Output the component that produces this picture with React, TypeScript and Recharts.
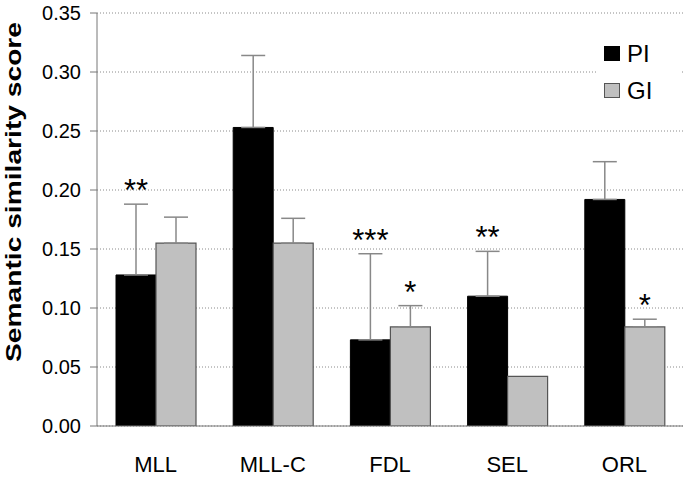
import React from 'react';
import {
  BarChart,
  Bar,
  XAxis,
  YAxis,
  CartesianGrid,
  ErrorBar,
  LabelList,
} from 'recharts';

const categories = ['MLL', 'MLL-C', 'FDL', 'SEL', 'ORL'];
const piValues = [0.128, 0.253, 0.073, 0.11, 0.192];
const giValues = [0.155, 0.155, 0.084, 0.042, 0.084];
const piErrors = [0.06, 0.061, 0.073, 0.038, 0.032];
const giErrors = [0.022, 0.021, 0.018, null, 0.0065];
const piMarks = ['**', '', '***', '**', ''];
const giMarks = ['', '', '*', '', '*'];
const yTicks = [0, 0.05, 0.1, 0.15, 0.2, 0.25, 0.3, 0.35];

const FONT = '"Liberation Sans", Arial, Helvetica, sans-serif';

const data = categories.map((name, i) => ({
  name,
  pi: piValues[i],
  gi: giValues[i],
  piErr: piErrors[i] == null ? null : [0, piErrors[i]],
  giErr: giErrors[i] == null ? null : [0, giErrors[i]],
  piSig: piMarks[i],
  giSig: giMarks[i],
}));

// asterisks sit just above the top of the error bar
const sigLabel = (values: number[], errors: (number | null)[]) => (props: any) => {
  const { x, y, width, height, value, index } = props;
  if (!value) return null;
  const perUnit = height / values[index];
  const top = y - (errors[index] || 0) * perUnit;
  return (
    <text
      x={x + width / 2}
      y={top - 3}
      textAnchor="middle"
      fontSize={31}
      fontFamily={FONT}
      fill="#000"
    >
      {value}
    </text>
  );
};

const YTitle = () => (
  <text
    transform="translate(21,192) rotate(-90)"
    textAnchor="middle"
    fontSize={22}
    fontWeight="bold"
    fontFamily={FONT}
    fill="#000"
    textLength={340}
    lengthAdjust="spacingAndGlyphs"
  >
    Semantic similarity score
  </text>
);

export default function App() {
  return (
    <div style={{ position: 'absolute', left: 0, top: 0, width: 685, height: 477, background: '#fff' }}>
      <BarChart
        width={685}
        height={477}
        data={data}
        margin={{ top: 13, right: 2, bottom: 0, left: 0 }}
        barCategoryGap={19}
        barGap={0}
      >
        <CartesianGrid
          vertical={false}
          stroke="#8a8a8a"
          strokeDasharray="1 2"
        />
        <XAxis
          dataKey="name"
          height={51}
          tickLine={false}
          tickSize={0}
          tickMargin={30}
          axisLine={{ stroke: '#777' }}
          tick={{ fontSize: 22, fill: '#000', fontFamily: FONT }}
        />
        <XAxis xAxisId="top" orientation="top" height={0} tick={false} tickLine={false} axisLine={{ stroke: '#777' }} />
        <YAxis
          width={97}
          domain={[0, 0.35]}
          ticks={yTicks}
          allowDataOverflow
          tickFormatter={(v: number) => v.toFixed(2)}
          tickSize={7}
          tickMargin={9}
          axisLine={{ stroke: '#777' }}
          tickLine={{ stroke: '#777' }}
          tick={{ fontSize: 20, fill: '#000', fontFamily: FONT }}
          label={<YTitle />}
        />
        <YAxis yAxisId="right" orientation="right" width={0} tick={false} tickLine={false} axisLine={{ stroke: '#777' }} />
        <Bar dataKey="pi" fill="#000" stroke="#000" isAnimationActive={false}>
          <ErrorBar dataKey="piErr" direction="y" width={12} stroke="#888" strokeWidth={1.5} />
          <LabelList dataKey="piSig" content={sigLabel(piValues, piErrors)} />
        </Bar>
        <Bar dataKey="gi" fill="#c0c0c0" stroke="#555" strokeWidth={1.2} isAnimationActive={false}>
          <ErrorBar dataKey="giErr" direction="y" width={12} stroke="#888" strokeWidth={1.5} />
          <LabelList dataKey="giSig" content={sigLabel(giValues, giErrors)} />
        </Bar>
      </BarChart>
      <div
        style={{
          position: 'absolute',
          left: 597,
          top: 32,
          width: 85,
          height: 78,
          background: '#fff',
          fontFamily: FONT,
          fontSize: 24,
          color: '#000',
        }}
      >
        <div style={{ position: 'absolute', left: 7, top: 14, width: 16, height: 15, background: '#000' }} />
        <div style={{ position: 'absolute', left: 30, top: 8, lineHeight: '28px' }}>PI</div>
        <div style={{ position: 'absolute', left: 7, top: 51, width: 14, height: 13, background: '#c0c0c0', border: '1px solid #555' }} />
        <div style={{ position: 'absolute', left: 30, top: 45, lineHeight: '28px' }}>GI</div>
      </div>
    </div>
  );
}
